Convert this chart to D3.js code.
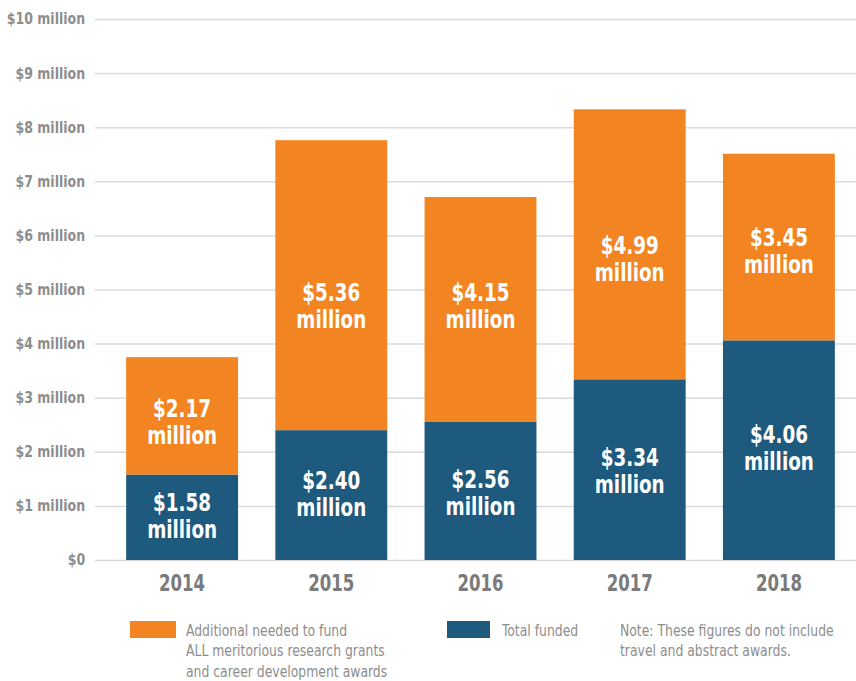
<!DOCTYPE html>
<html>
<head>
<meta charset="utf-8">
<script src="https://cdn.jsdelivr.net/npm/d3@7"></script>
<style>
  body { margin: 0; background: #fff; }
  svg text { font-family: "DejaVu Sans Condensed", "Roboto", sans-serif; }
</style>
</head>
<body>
<svg width="856" height="681"></svg>
<script>
// data
var years = ["2014", "2015", "2016", "2017", "2018"];
var funded = [1.58, 2.40, 2.56, 3.34, 4.06];
var additional = [2.17, 5.36, 4.15, 4.99, 3.45];
var yTicks = [0, 1, 2, 3, 4, 5, 6, 7, 8, 9, 10];

var svg = d3.select("svg"),
    width = +svg.attr("width"),
    height = +svg.attr("height");

var orange = "#f28522", blue = "#1e5a7d", grey = "#8d8d8d";

var x = d3.scaleBand()
    .domain(years)
    .range([107.5, 853.5])
    .paddingInner(0.25)
    .paddingOuter(0.125);

var y = d3.scaleLinear()
    .domain([0, 10])
    .range([560, 19]);

// gridlines + y labels
var yAxis = svg.append("g")
    .attr("transform", "translate(95,0)")
    .call(d3.axisLeft(y).tickValues(yTicks).tickSize(-761).tickPadding(11)
      .tickFormat(function(d){ return d == 0 ? "$0" : "$" + d + " million" }))
yAxis.select(".domain").remove()
yAxis.selectAll(".tick line").attr("stroke", "#dadada").attr("stroke-width", 1.5)
yAxis.selectAll(".tick text")
    .attr("fill", grey)
    .attr("transform", "scale(0.9,1)")
    .style("font-size", "15.5px")
    .style("font-weight", "bold")

// stacked bars
var rows = years.map(function(yr, i){ return {year: yr, funded: funded[i], additional: additional[i]} })

svg.append("g").selectAll("rect.fund")
  .data(rows)
  .enter()
  .append("rect")
    .attr("x", function(d){ return x(d.year) })
    .attr("width", x.bandwidth())
    .attr("y", function(d){ return y(d.funded) })
    .attr("height", function(d){ return y(0) - y(d.funded) })
    .attr("fill", blue)

svg.append("g").selectAll("rect.add")
  .data(rows)
  .enter()
  .append("rect")
    .attr("x", function(d){ return x(d.year) })
    .attr("width", x.bandwidth())
    .attr("y", function(d){ return y(d.funded + d.additional) })
    .attr("height", function(d){ return y(d.funded) - y(d.funded + d.additional) })
    .attr("fill", orange)

// value labels, two lines roughly centred in each segment (nudge in px, like the original layout)
var nudgeFund = [-1.5, -1.5, 2.5, 1, -2.5];
var nudgeAdd = [6, 20.5, -3.5, 15, 3.5];
function addLabels(get, base, nudge){
  var g = svg.append("g").selectAll("text")
    .data(rows)
    .enter()
    .append("text")
      .attr("text-anchor", "middle")
      .attr("fill", "#fff")
      .style("font-size", "24px")
      .style("font-weight", "bold")
      .attr("transform", function(d, i){
        var cx = x(d.year) + x.bandwidth() / 2,
            cy = (y(base(d)) + y(base(d) + get(d))) / 2 + nudge[i];
        return "translate(" + cx + "," + cy + ") scale(0.85,1)"
      })
  g.append("tspan")
      .attr("x", 0)
      .attr("y", -5)
      .text(function(d){ return "$" + get(d).toFixed(2) })
  g.append("tspan")
      .attr("x", 0)
      .attr("y", 22)
      .text("million")
}
addLabels(function(d){ return d.funded }, function(d){ return 0 }, nudgeFund)
addLabels(function(d){ return d.additional }, function(d){ return d.funded }, nudgeAdd)

// x labels
svg.append("g").selectAll("text")
  .data(years)
  .enter()
  .append("text")
    .attr("transform", function(d){ return "translate(" + (x(d) + x.bandwidth() / 2) + ",591) scale(0.8,1)" })
    .attr("text-anchor", "middle")
    .attr("fill", "#7a7a7a")
    .style("font-size", "23px")
    .style("font-weight", "bold")
    .text(function(d){ return d })

// legend
svg.append("rect").attr("x", 130).attr("y", 621).attr("width", 46).attr("height", 17).attr("fill", orange)
svg.append("rect").attr("x", 447).attr("y", 621).attr("width", 43).attr("height", 17).attr("fill", blue)

function lines(xp, arr){
  var t = svg.append("text").attr("fill", grey).style("font-size", "15px")
    .attr("transform", "translate(" + xp + ",0) scale(0.92,1)")
  arr.forEach(function(s, i){
    t.append("tspan").attr("x", 0).attr("y", 636 + i * 20.5).text(s)
  })
}
lines(186, ["Additional needed to fund", "ALL meritorious research grants", "and career development awards"])
lines(502, ["Total funded"])
lines(620, ["Note: These figures do not include", "travel and abstract awards."])
</script>
</body>
</html>
